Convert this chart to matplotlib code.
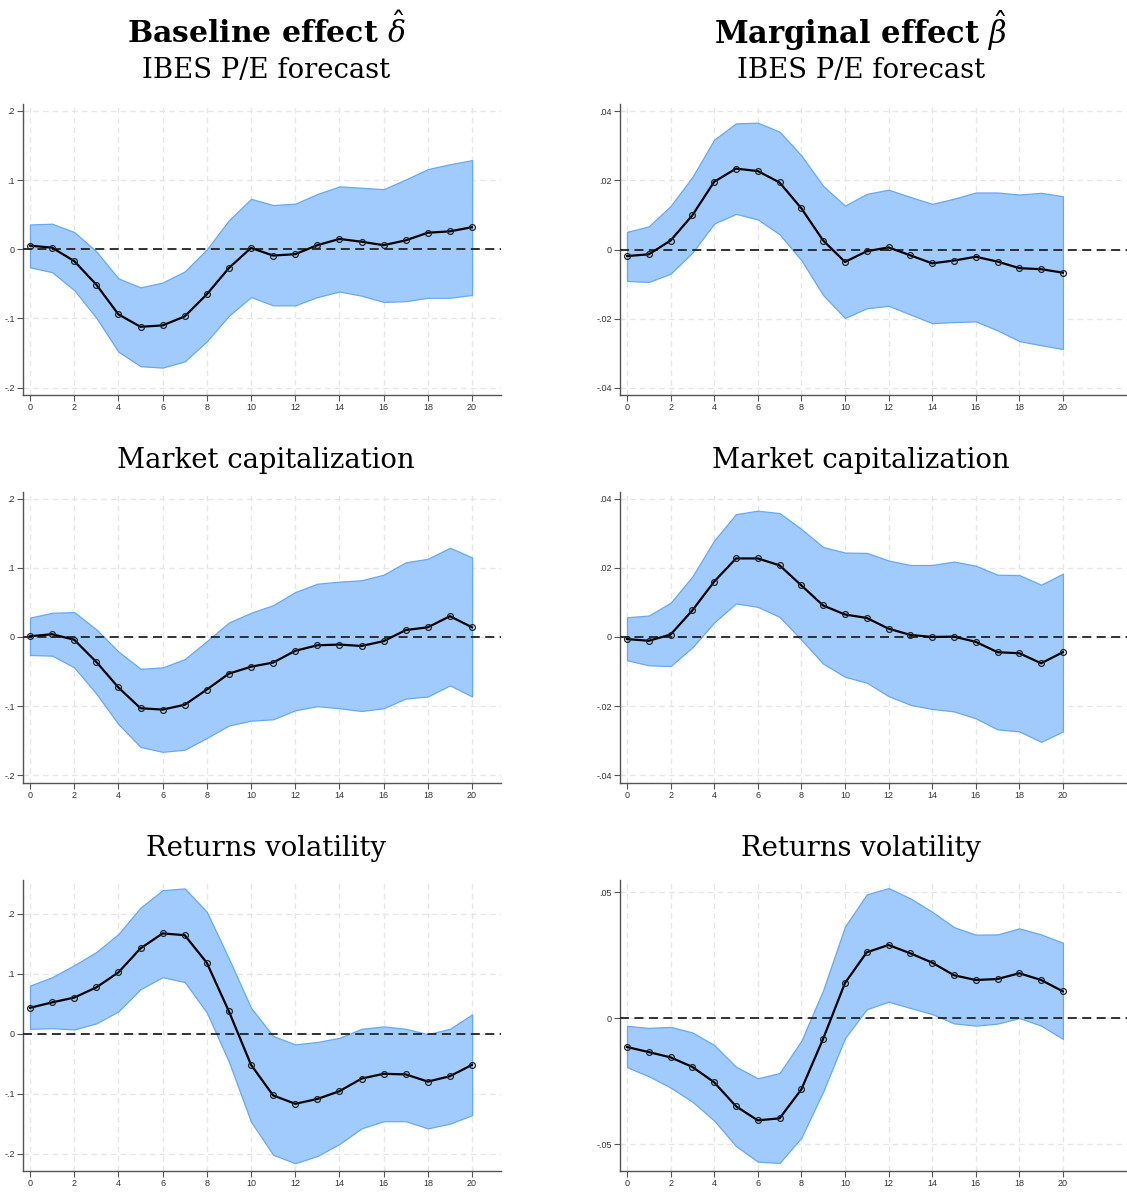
import numpy as np
import matplotlib
matplotlib.use("Agg")
import matplotlib.pyplot as plt

# horizonte (eje x)
h = np.arange(0, 21)

# Baseline effect - IBES P/E forecast
base_pe = [0.0053, 0.0024, -0.017, -0.051, -0.094, -0.112, -0.110, -0.097, -0.065, -0.027, 0.002,
           -0.009, -0.007, 0.006, 0.015, 0.011, 0.006, 0.013, 0.024, 0.026, 0.032]
base_pe_hi = [0.036, 0.037, 0.025, -0.003, -0.042, -0.055, -0.048, -0.032, 0.000, 0.042, 0.073,
              0.064, 0.066, 0.080, 0.091, 0.089, 0.087, 0.101, 0.116, 0.123, 0.129]
base_pe_lo = [-0.026, -0.033, -0.059, -0.099, -0.148, -0.169, -0.171, -0.162, -0.133, -0.096, -0.069,
              -0.081, -0.081, -0.069, -0.061, -0.067, -0.076, -0.075, -0.070, -0.070, -0.066]

# Marginal effect - IBES P/E forecast
marg_pe = [-0.0019, -0.0014, 0.0026, 0.0099, 0.0196, 0.0234, 0.0227, 0.0194, 0.0119, 0.0026, -0.0036,
           -0.0005, 0.0006, -0.0017, -0.0040, -0.0032, -0.0021, -0.0035, -0.0054, -0.0057, -0.0067]
marg_pe_hi = [0.0051, 0.0067, 0.0126, 0.0210, 0.0318, 0.0365, 0.0367, 0.0341, 0.0272, 0.0184, 0.0127,
              0.0161, 0.0173, 0.0152, 0.0132, 0.0147, 0.0165, 0.0165, 0.0159, 0.0164, 0.0154]
marg_pe_lo = [-0.0091, -0.0094, -0.0070, -0.0009, 0.0075, 0.0103, 0.0087, 0.0044, -0.0031, -0.0132, -0.0198,
              -0.0170, -0.0163, -0.0188, -0.0213, -0.0210, -0.0208, -0.0234, -0.0265, -0.0277, -0.0288]

# Baseline effect - Market capitalization
base_mc = [0.001, 0.004, -0.004, -0.036, -0.073, -0.103, -0.105, -0.098, -0.076, -0.053, -0.043,
           -0.037, -0.020, -0.012, -0.011, -0.013, -0.006, 0.010, 0.014, 0.030, 0.014]
base_mc_hi = [0.028, 0.035, 0.036, 0.011, -0.021, -0.046, -0.044, -0.032, -0.006, 0.021, 0.035,
              0.046, 0.065, 0.077, 0.080, 0.082, 0.090, 0.108, 0.113, 0.129, 0.115]
base_mc_lo = [-0.026, -0.027, -0.044, -0.082, -0.126, -0.159, -0.166, -0.163, -0.146, -0.128, -0.121,
              -0.119, -0.106, -0.100, -0.103, -0.107, -0.103, -0.089, -0.086, -0.070, -0.086]

# Marginal effect - Market capitalization
marg_mc = [-0.0006, -0.0011, 0.0007, 0.0077, 0.0160, 0.0227, 0.0227, 0.0207, 0.0149, 0.0091, 0.0065,
           0.0055, 0.0024, 0.0006, 0.0000, 0.0001, -0.0014, -0.0044, -0.0047, -0.0076, -0.0044]
marg_mc_hi = [0.0057, 0.0062, 0.0099, 0.0175, 0.0279, 0.0355, 0.0365, 0.0358, 0.0312, 0.0260, 0.0244,
              0.0243, 0.0221, 0.0208, 0.0208, 0.0218, 0.0206, 0.0180, 0.0179, 0.0151, 0.0183]
marg_mc_lo = [-0.0067, -0.0082, -0.0084, -0.0030, 0.0042, 0.0097, 0.0087, 0.0058, -0.0008, -0.0077, -0.0115,
              -0.0132, -0.0171, -0.0196, -0.0208, -0.0215, -0.0235, -0.0267, -0.0273, -0.0303, -0.0273]

# Baseline effect - Returns volatility
base_rv = [0.043, 0.052, 0.060, 0.077, 0.102, 0.142, 0.167, 0.164, 0.118, 0.037, -0.052,
           -0.103, -0.117, -0.109, -0.096, -0.075, -0.067, -0.068, -0.080, -0.071, -0.052]
base_rv_hi = [0.080, 0.094, 0.114, 0.136, 0.166, 0.210, 0.239, 0.242, 0.203, 0.125, 0.043,
              -0.004, -0.018, -0.014, -0.007, 0.008, 0.012, 0.008, -0.001, 0.008, 0.032]
base_rv_lo = [0.008, 0.009, 0.007, 0.017, 0.037, 0.074, 0.094, 0.086, 0.035, -0.047, -0.147,
              -0.202, -0.216, -0.204, -0.184, -0.158, -0.146, -0.146, -0.158, -0.150, -0.136]

# Marginal effect - Returns volatility
marg_rv = [-0.0114, -0.0134, -0.0155, -0.0193, -0.0254, -0.0349, -0.0405, -0.0397, -0.0282, -0.0081, 0.0140,
           0.0262, 0.0291, 0.0258, 0.0221, 0.0171, 0.0152, 0.0156, 0.0179, 0.0152, 0.0107]
marg_rv_hi = [-0.0030, -0.0038, -0.0034, -0.0056, -0.0106, -0.0192, -0.0238, -0.0217, -0.0089, 0.0112, 0.0364,
              0.0492, 0.0517, 0.0476, 0.0423, 0.0362, 0.0332, 0.0333, 0.0357, 0.0333, 0.0300]
marg_rv_lo = [-0.0194, -0.0230, -0.0275, -0.0331, -0.0406, -0.0507, -0.0569, -0.0574, -0.0474, -0.0291, -0.0079,
              0.0036, 0.0066, 0.0041, 0.0017, -0.0020, -0.0029, -0.0021, 0.0001, -0.0029, -0.0082]

yt_base = [-0.2, -0.1, 0, 0.1, 0.2]
yt_base_lab = ["-.2", "-.1", "0", ".1", ".2"]
yt_marg = [-0.04, -0.02, 0, 0.02, 0.04]
yt_marg_lab = ["-.04", "-.02", "0", ".02", ".04"]
yt_rv_marg = [-0.05, 0, 0.05]
yt_rv_marg_lab = ["-.05", "0", ".05"]
xt = list(range(0, 21, 2))

row_titles = ["IBES P/E forecast", "Market capitalization", "Returns volatility"]

plt.rcParams['mathtext.fontset'] = 'dejavuserif'

W, H = 1127, 1192
fig = plt.figure(figsize=(W / 100, H / 100), dpi=100)

# posiciones en pixeles (izq, arriba, ancho, alto)
row_top = [104, 492, 880]
ax_h = 291
col_left = [23, 620]
col_w = [478, 507]
col_xlim = [(-0.317, 21.31), (-0.321, 22.94)]

panels = [
    (0, 0, base_pe, base_pe_lo, base_pe_hi, (-0.2106, 0.2101), yt_base, yt_base_lab),
    (0, 1, marg_pe, marg_pe_lo, marg_pe_hi, (-0.0421, 0.0421), yt_marg, yt_marg_lab),
    (1, 0, base_mc, base_mc_lo, base_mc_hi, (-0.2111, 0.2096), yt_base, yt_base_lab),
    (1, 1, marg_mc, marg_mc_lo, marg_mc_hi, (-0.0422, 0.0419), yt_marg, yt_marg_lab),
    (2, 0, base_rv, base_rv_lo, base_rv_hi, (-0.229, 0.256), yt_base, yt_base_lab),
    (2, 1, marg_rv, marg_rv_lo, marg_rv_hi, (-0.0606, 0.0549), yt_rv_marg, yt_rv_marg_lab),
]

fill_c = '#a1cbfc'
edge_c = '#67a8f5'
spine_c = '#555555'

for r, c, y, lo, hi, ylim, yt, ytl in panels:
    ax = fig.add_axes([col_left[c] / W, 1 - (row_top[r] + ax_h) / H, col_w[c] / W, ax_h / H])
    ax.fill_between(h, lo, hi, facecolor=fill_c, edgecolor=edge_c, linewidth=0.9, zorder=2)
    ax.axhline(0, color='#222222', linestyle=(0, (5, 3)), linewidth=1.3, zorder=3)
    ax.plot(h, y, color='black', linewidth=1.6, marker='o', markersize=4.2,
            markerfacecolor='none', markeredgecolor='#222222', markeredgewidth=0.9, zorder=4)
    ax.set_xlim(*col_xlim[c])
    ax.set_ylim(*ylim)
    ax.set_xticks(xt)
    ax.set_xticklabels([str(v) for v in xt])
    ax.set_yticks(yt)
    ax.set_yticklabels(ytl)
    ax.grid(True, color='#e6e6e6', linestyle=(0, (4, 3)), linewidth=1.0, zorder=0)
    ax.set_axisbelow(True)
    for s in ['top', 'right']:
        ax.spines[s].set_visible(False)
    for s in ['left', 'bottom']:
        ax.spines[s].set_color(spine_c)
        ax.spines[s].set_linewidth(1.0)
    ax.tick_params(axis='both', direction='out', length=4, width=0.8, color=spine_c,
                   labelsize=6.5, labelcolor='#333333', pad=2)
    for lab in ax.get_xticklabels() + ax.get_yticklabels():
        lab.set_family('Liberation Sans')

# titulos
serif = 'DejaVu Serif'
cx = [266 / W, 861 / W]
fig.text(cx[0], 1 - 31 / H, r"Baseline effect $\hat{\delta}$", ha='center', va='center',
         fontsize=21.5, fontweight='bold', family=serif)
fig.text(cx[1], 1 - 31 / H, r"Marginal effect $\hat{\beta}$", ha='center', va='center',
         fontsize=22, fontweight='bold', family=serif)
row_title_y = [70, 460, 848]
for i, t in enumerate(row_titles):
    for c in range(2):
        fig.text(cx[c], 1 - row_title_y[i] / H, t, ha='center', va='center',
                 fontsize=19.8, family=serif)

fig.savefig("out.png", dpi=100)
